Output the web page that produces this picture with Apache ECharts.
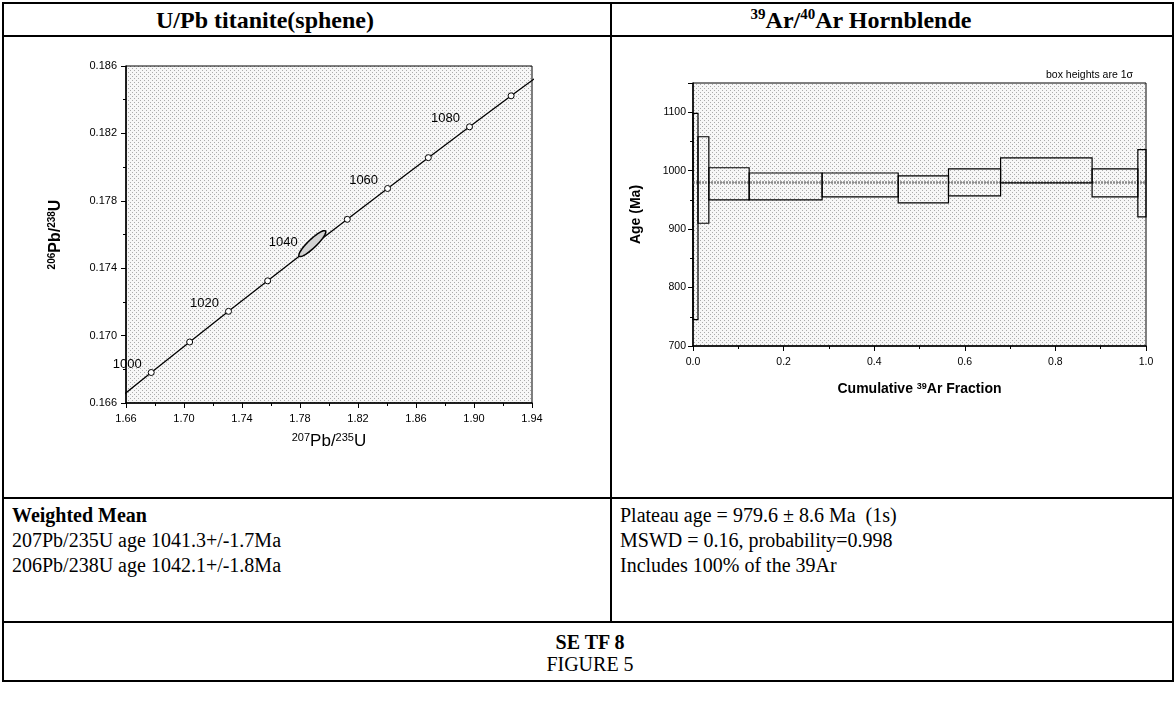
<!DOCTYPE html>
<html>
<head>
<meta charset="utf-8">
<script src="https://cdn.jsdelivr.net/npm/echarts@6/dist/echarts.min.js"></script>
<style>
  html, body { margin: 0; padding: 0; background: #fff; }
  #page { position: relative; width: 1176px; height: 702px; overflow: hidden; }
  .ln { position: absolute; background: #000; }
  .txt { position: absolute; font-family: "Liberation Serif", serif; color: #000; white-space: nowrap; }
  .title { font-size: 24px; font-weight: bold; line-height: 30px; transform: translateX(-50%); }
  .title sup { font-size: 15px; line-height: 0; }
  .body { font-size: 20px; line-height: 25px; }
  #chart { position: absolute; left: 0; top: 0; width: 1176px; height: 702px; }
</style>
</head>
<body>
<div id="page">
  <div class="ln" style="left:2px;top:2px;width:1172px;height:2px"></div>
  <div class="ln" style="left:2px;top:35px;width:1172px;height:2px"></div>
  <div class="ln" style="left:2px;top:497px;width:1172px;height:2px"></div>
  <div class="ln" style="left:2px;top:621px;width:1172px;height:2px"></div>
  <div class="ln" style="left:2px;top:680px;width:1172px;height:2px"></div>
  <div class="ln" style="left:2px;top:2px;width:2px;height:680px"></div>
  <div class="ln" style="left:1172px;top:2px;width:2px;height:680px"></div>
  <div class="ln" style="left:610px;top:2px;width:2px;height:620px"></div>

  <div class="txt title" style="left:265px;top:5px">U/Pb titanite(sphene)</div>
  <div class="txt title" style="left:861px;top:5px"><sup>39</sup>Ar/<sup>40</sup>Ar Hornblende</div>

  <div class="txt body" style="left:12px;top:503px">
    <b>Weighted Mean</b><br>
    207Pb/235U age 1041.3+/-1.7Ma<br>
    206Pb/238U age 1042.1+/-1.8Ma
  </div>
  <div class="txt body" style="left:620px;top:503px">
    Plateau age = 979.6 ± 8.6 Ma&nbsp; (1s)<br>
    MSWD = 0.16, probability=0.998<br>
    Includes 100% of the 39Ar
  </div>
  <div class="txt body" style="left:590px;top:631px;line-height:22px;transform:translateX(-50%);text-align:center">
    <b>SE TF 8</b><br>
    FIGURE 5
  </div>

  <div id="chart"></div>
</div>
<script>
// concordia curve (207Pb/235U, 206Pb/238U), 990-1100 Ma
const concordia207 = [1.6512, 1.6774, 1.7039, 1.7307, 1.7577, 1.7850, 1.8126, 1.8404, 1.8685, 1.8969, 1.9256, 1.9545];
const concordia206 = [0.16600, 0.16781, 0.16962, 0.17144, 0.17325, 0.17508, 0.17690, 0.17873, 0.18056, 0.18239, 0.18423, 0.18606];
// age markers on the curve
const markerAges = [1000, 1010, 1020, 1030, 1040, 1050, 1060, 1070, 1080, 1090];
const marker207 = [1.6774, 1.7039, 1.7307, 1.7577, 1.7850, 1.8126, 1.8404, 1.8685, 1.8969, 1.9256];
const marker206 = [0.16781, 0.16962, 0.17144, 0.17325, 0.17508, 0.17690, 0.17873, 0.18056, 0.18239, 0.18423];
// error ellipse of the titanite analysis
const ellipseCenter = [1.7885, 0.17546];
const ellipseErr = [0.0093, 0.00077];
const ellipseRho = 0.9;

// Ar/Ar step heating spectrum
const stepEdges = [0, 0.011, 0.035, 0.124, 0.285, 0.453, 0.564, 0.679, 0.881, 0.982, 1.0];
const stepLow = [745, 910, 950, 950, 955, 945, 957, 979, 955, 921];
const stepHigh = [1098, 1058, 1005, 996, 996, 991, 1003, 1022, 1003, 1036];
const plateauAge = 979.6;

// stipple background like the scanned plot
const tile = document.createElement('canvas');
tile.width = 4; tile.height = 4;
const g = tile.getContext('2d');
g.fillStyle = '#f7f7f7';
g.fillRect(0, 0, 4, 4);
g.fillStyle = '#ababab';
g.fillRect(0, 0, 1, 1);
g.fillRect(2, 2, 1, 1);
const stipple = { image: tile, repeat: 'repeat' };

const sans = 'Liberation Sans';
const rich = (size, bold) => ({
  n: { fontSize: size, fontWeight: bold ? 'bold' : 'normal', fontFamily: sans, color: '#000' },
  sup: { fontSize: Math.round(size * 0.65), fontWeight: bold ? 'bold' : 'normal', fontFamily: sans, color: '#000', padding: [0, 0, Math.round(size * 0.45), 0] }
});

function valueAxis(grid, min, max, interval, digits, size) {
  return {
    type: 'value',
    gridIndex: grid,
    min: min,
    max: max,
    interval: interval,
    axisLine: { show: true, onZero: false, lineStyle: { color: '#000', width: 1.5 } },
    axisTick: { show: true, length: 5, lineStyle: { color: '#000' } },
    minorTick: { show: true, splitNumber: 2, length: 3, lineStyle: { color: '#000' } },
    splitLine: { show: false },
    axisLabel: {
      color: '#000', fontSize: size, fontFamily: sans, margin: 9,
      formatter: (v) => v.toFixed(digits)
    }
  };
}

const ageData = markerAges.map((a, i) => [marker207[i], marker206[i], a]);
const stepData = stepLow.map((lo, i) => [stepEdges[i], stepEdges[i + 1], lo, stepHigh[i]]);

const xLeft = valueAxis(0, 1.66, 1.94, 0.04, 2, 11);
xLeft.axisLabel.margin = 10;
xLeft.name = '{sup|207}{n|Pb/}{sup|235}{n|U}';
xLeft.nameLocation = 'middle';
xLeft.nameGap = 29;
xLeft.nameTextStyle = { rich: rich(17, false) };

const yLeft = valueAxis(0, 0.166, 0.186, 0.004, 3, 11);
yLeft.name = '{sup|206}{n|Pb/}{sup|238}{n|U}';
yLeft.nameLocation = 'middle';
yLeft.nameGap = 62;
yLeft.nameTextStyle = { rich: rich(16, true) };

const xRight = valueAxis(1, 0, 1, 0.2, 1, 10.5);
xRight.axisLabel.margin = 11;
xRight.name = '{n|Cumulative }{sup|39}{n|Ar Fraction}';
xRight.nameLocation = 'middle';
xRight.nameGap = 36;
xRight.nameTextStyle = { rich: rich(14, true) };

const yRight = valueAxis(1, 700, 1150, 100, 0, 10.5);
yRight.axisLabel.margin = 7;
yRight.axisLabel.showMaxLabel = false;
yRight.name = 'Age (Ma)';
yRight.nameLocation = 'middle';
yRight.nameGap = 50;
yRight.nameTextStyle = { fontSize: 14, fontWeight: 'bold', fontFamily: sans, color: '#000' };

const chart = echarts.init(document.getElementById('chart'), null, { renderer: 'canvas' });
chart.setOption({
  animation: false,
  backgroundColor: 'transparent',
  grid: [
    { left: 126, top: 66, width: 406, height: 337, show: true, backgroundColor: stipple, borderColor: '#000', borderWidth: 1 },
    { left: 693, top: 83, width: 453, height: 263, show: true, backgroundColor: stipple, borderColor: '#000', borderWidth: 1 }
  ],
  xAxis: [xLeft, xRight],
  yAxis: [yLeft, yRight],
  graphic: [{
    type: 'text',
    x: 1133, y: 75,
    style: { text: 'box heights are 1σ', fill: '#000', font: '10.5px "Liberation Sans"', textAlign: 'right', textVerticalAlign: 'middle' }
  }],
  series: [
    {
      type: 'line',
      xAxisIndex: 0, yAxisIndex: 0,
      data: concordia207.map((x, i) => [x, concordia206[i]]),
      showSymbol: false,
      clip: true,
      lineStyle: { color: '#000', width: 1.3 },
      silent: true,
      z: 2
    },
    {
      type: 'scatter',
      xAxisIndex: 0, yAxisIndex: 0,
      data: ageData,
      symbol: 'circle',
      symbolSize: 6,
      itemStyle: { color: '#fff', borderColor: '#000', borderWidth: 1, opacity: 1 },
      label: {
        show: true,
        position: 'left',
        distance: 6,
        offset: [0, -8],
        color: '#000',
        fontSize: 13,
        fontFamily: sans,
        formatter: (p) => (p.value[2] % 20 === 0 ? String(p.value[2]) : '')
      },
      z: 3
    },
    {
      type: 'custom',
      xAxisIndex: 0, yAxisIndex: 0,
      data: [ellipseCenter],
      renderItem: (params, api) => {
        const cx = api.value(0), cy = api.value(1);
        const s = Math.sqrt(1 - ellipseRho * ellipseRho);
        const pts = [];
        for (let i = 0; i < 90; i++) {
          const t = (i / 90) * Math.PI * 2;
          pts.push(api.coord([
            cx + ellipseErr[0] * Math.cos(t),
            cy + ellipseErr[1] * (ellipseRho * Math.cos(t) + s * Math.sin(t))
          ]));
        }
        return {
          type: 'polygon',
          shape: { points: pts },
          style: { fill: '#d2d2d2', stroke: '#000', lineWidth: 1.5 }
        };
      },
      z: 4
    },
    {
      type: 'custom',
      xAxisIndex: 1, yAxisIndex: 1,
      data: stepData,
      encode: { x: [0, 1], y: [2, 3] },
      renderItem: (params, api) => {
        const p0 = api.coord([api.value(0), api.value(3)]);
        const p1 = api.coord([api.value(1), api.value(2)]);
        return {
          type: 'rect',
          shape: { x: p0[0], y: p0[1], width: p1[0] - p0[0], height: p1[1] - p0[1] },
          style: { fill: 'none', stroke: '#000', lineWidth: 1.2 }
        };
      },
      z: 3
    },
    {
      type: 'line',
      xAxisIndex: 1, yAxisIndex: 1,
      data: [[0, plateauAge], [1, plateauAge]],
      showSymbol: false,
      lineStyle: { color: '#8a8a8a', width: 2.5, type: [2, 1] },
      silent: true,
      z: 2
    }
  ]
});
</script>
</body>
</html>
